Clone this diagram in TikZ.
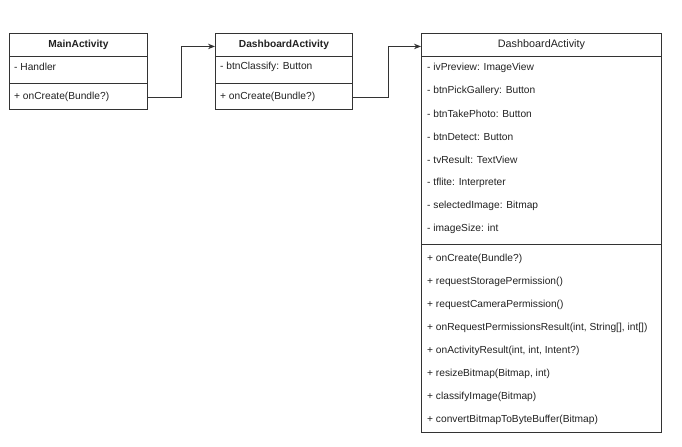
\documentclass[tikz,border=0pt]{standalone}
\usepackage{fontspec}
\setmainfont{Liberation Sans}
\usetikzlibrary{arrows.meta}
\definecolor{linec}{HTML}{333333}
\definecolor{txtc}{HTML}{222222}
\begin{document}
\begin{tikzpicture}[x=1bp,y=-1bp,
  comp/.style={draw=linec, line width=0.9bp, inner sep=0pt, anchor=north west, font=\fontsize{10.2bp}{12bp}\selectfont, text=txtc},
  txt/.style={inner sep=0pt, anchor=west, font=\fontsize{10.2bp}{12bp}\selectfont, text=txtc},
  conn/.style={draw=linec, line width=0.9bp, -{Stealth[length=7bp,width=5.5bp]}}
]
\useasboundingbox (0,0) rectangle (682,447);
\fill[white] (0,0) rectangle (682,447);

% MainActivity
\node[comp, minimum width=138bp, minimum height=23bp] (h1) at (9,33) {\bfseries MainActivity};
\node[comp, minimum width=138bp, minimum height=27bp] (a1) at (9,56) {};
\node[comp, minimum width=138bp, minimum height=26bp] (m1) at (9,83) {};
\node[txt] (a1t1) at (14,67) {- Handler};
\node[txt] (m1t1) at (14,97) {+ onCreate(Bundle?)};

% DashboardActivity (small)
\node[comp, minimum width=137bp, minimum height=23bp] (h2) at (215,33) {\bfseries DashboardActivity};
\node[comp, minimum width=137bp, minimum height=27bp] (a2) at (215,56) {};
\node[comp, minimum width=137bp, minimum height=26bp] (m2) at (215,83) {};
\node[txt] (a2t1) at (220,67) {- btnClassify: Button};
\node[txt] (m2t1) at (220,97) {+ onCreate(Bundle?)};

% DashboardActivity (large)
\node[comp, minimum width=240bp, minimum height=23bp] (h3) at (421,33) {\fontsize{10.8bp}{12bp}\selectfont DashboardActivity};
\node[comp, minimum width=240bp, minimum height=188bp] (a3) at (421,56) {};
\node[comp, minimum width=240bp, minimum height=188bp] (m3) at (421,244) {};
\node[txt] (a3t1) at (427,68) {- ivPreview: ImageView};
\node[txt] (a3t2) at (427,91) {- btnPickGallery: Button};
\node[txt] (a3t3) at (427,114) {- btnTakePhoto: Button};
\node[txt] (a3t4) at (427,137) {- btnDetect: Button};
\node[txt] (a3t5) at (427,160) {- tvResult: TextView};
\node[txt] (a3t6) at (427,183) {- tflite: Interpreter};
\node[txt] (a3t7) at (427,206) {- selectedImage: Bitmap};
\node[txt] (a3t8) at (427,229) {- imageSize: int};
\node[txt] (m3t1) at (427,259) {+ onCreate(Bundle?)};
\node[txt] (m3t2) at (427,282) {+ requestStoragePermission()};
\node[txt] (m3t3) at (427,305) {+ requestCameraPermission()};
\node[txt] (m3t4) at (427,328) {+ onRequestPermissionsResult(int, String[], int[])};
\node[txt] (m3t5) at (427,351) {+ onActivityResult(int, int, Intent?)};
\node[txt] (m3t6) at (427,374) {+ resizeBitmap(Bitmap, int)};
\node[txt] (m3t7) at (427,397) {+ classifyImage(Bitmap)};
\node[txt] (m3t8) at (427,420) {+ convertBitmapToByteBuffer(Bitmap)};

% connectors
\draw[conn] ([yshift=-1bp]m1.east) -- ++(34,0) |- ([yshift=-1.5bp]h2.west);
\draw[conn] ([yshift=-1bp]m2.east) -- ++(36,0) |- ([yshift=-1.5bp]h3.west);
\end{tikzpicture}
\end{document}
